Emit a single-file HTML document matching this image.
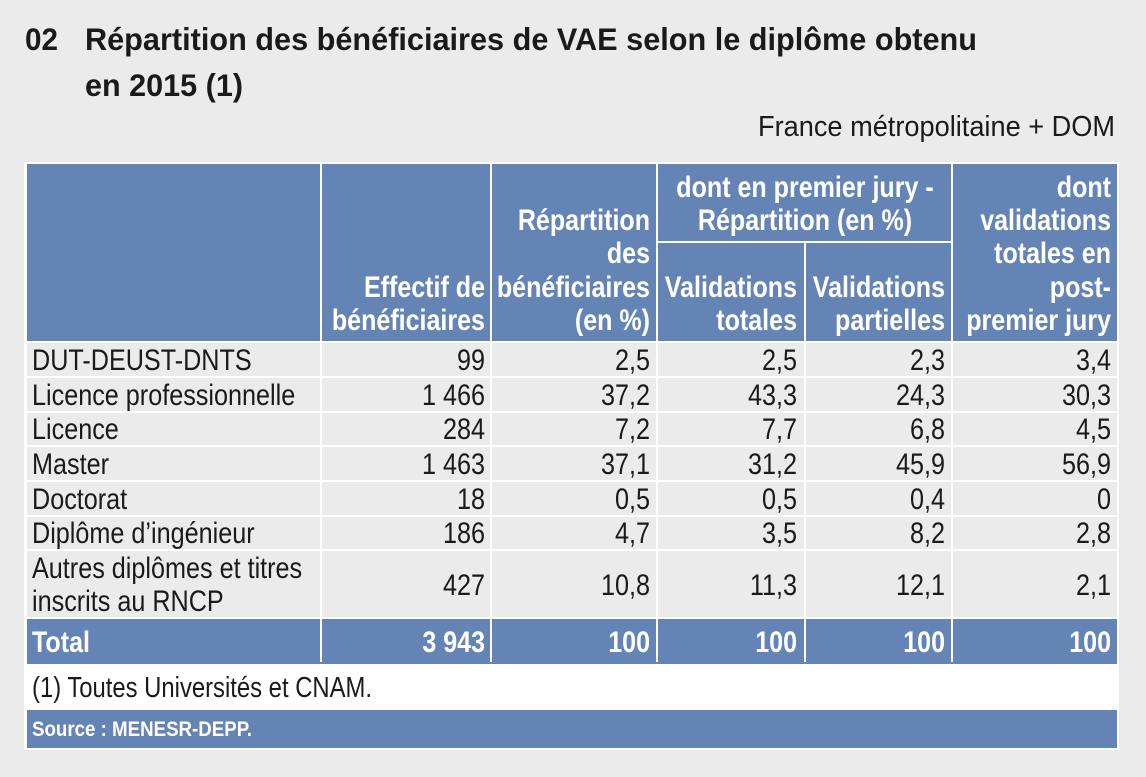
<!DOCTYPE html>
<html>
<head>
<meta charset="utf-8">
<style>
html,body{margin:0;padding:0;background:#ebebeb;}
svg{display:block;}
.t{font-family:"Liberation Sans",Arial,sans-serif;font-weight:bold;font-size:31.5px;fill:#1a1a1a;}
.r{font-family:"Liberation Sans",Arial,sans-serif;font-size:28.5px;fill:#1a1a1a;}
.b{font-family:"Liberation Sans",Arial,sans-serif;font-size:30px;fill:#1a1a1a;}
.h{font-family:"Liberation Sans",Arial,sans-serif;font-weight:bold;font-size:30px;fill:#ffffff;}
.f{font-family:"Liberation Sans",Arial,sans-serif;font-size:29px;fill:#1a1a1a;}
.s{font-family:"Liberation Sans",Arial,sans-serif;font-weight:bold;font-size:21px;fill:#ffffff;}
</style>
</head>
<body>
<svg width="1146" height="777" viewBox="0 0 1146 777" xmlns="http://www.w3.org/2000/svg">
<rect x="0" y="0" width="1146" height="777" fill="#ebebeb"/>

<!-- Title -->
<text class="t" x="25" y="50" textLength="33" lengthAdjust="spacingAndGlyphs">02</text>
<text class="t" x="85" y="50" textLength="892" lengthAdjust="spacingAndGlyphs">Répartition des bénéficiaires de VAE selon le diplôme obtenu</text>
<text class="t" x="85" y="96" textLength="158" lengthAdjust="spacingAndGlyphs">en 2015 (1)</text>
<text class="r" x="758" y="136" textLength="357" lengthAdjust="spacingAndGlyphs">France métropolitaine + DOM</text>

<!-- white frame -->
<rect x="24" y="162" width="1095" height="588" fill="#ffffff"/>

<!-- header cells -->
<g fill="#6584b6">
<rect x="27" y="164" width="293" height="177"/>
<rect x="322" y="164" width="168" height="177"/>
<rect x="492" y="164" width="164" height="177"/>
<rect x="658" y="164" width="293" height="77"/>
<rect x="658" y="243" width="146" height="98"/>
<rect x="806" y="243" width="145" height="98"/>
<rect x="953" y="164" width="164" height="177"/>
</g>

<!-- body gray -->
<rect x="27" y="343" width="1090" height="274" fill="#ebebeb"/>
<!-- total blue -->
<rect x="27" y="619" width="1090" height="45" fill="#6584b6"/>
<!-- source blue -->
<rect x="27" y="710" width="1090" height="38" fill="#6584b6"/>

<!-- horizontal white lines in body -->
<g fill="#ffffff">
<rect x="27" y="376" width="1090" height="2"/>
<rect x="27" y="411" width="1090" height="2"/>
<rect x="27" y="445" width="1090" height="2"/>
<rect x="27" y="480" width="1090" height="2"/>
<rect x="27" y="515" width="1090" height="2"/>
<rect x="27" y="549" width="1090" height="2"/>
<rect x="27" y="617" width="1090" height="2"/>
<!-- vertical white lines -->
<rect x="320" y="341" width="2" height="321"/>
<rect x="490" y="341" width="2" height="321"/>
<rect x="656" y="341" width="2" height="321"/>
<rect x="804" y="341" width="2" height="321"/>
<rect x="951" y="341" width="2" height="321"/>
</g>

<!-- header texts -->
<g class="h">
<text text-anchor="end" transform="translate(485 297) scale(.835 1)">Effectif de</text>
<text text-anchor="end" transform="translate(485 330) scale(.835 1)">bénéficiaires</text>

<text text-anchor="end" transform="translate(650 230) scale(.835 1)">Répartition</text>
<text text-anchor="end" transform="translate(650 263) scale(.835 1)">des</text>
<text text-anchor="end" transform="translate(650 297) scale(.835 1)">bénéficiaires</text>
<text text-anchor="end" transform="translate(650 330) scale(.835 1)">(en %)</text>

<text text-anchor="middle" transform="translate(805 197) scale(.835 1)">dont en premier jury -</text>
<text text-anchor="middle" transform="translate(805 230) scale(.835 1)">Répartition (en %)</text>

<text text-anchor="end" transform="translate(797 297) scale(.835 1)">Validations</text>
<text text-anchor="end" transform="translate(797 330) scale(.835 1)">totales</text>

<text text-anchor="end" transform="translate(945 297) scale(.835 1)">Validations</text>
<text text-anchor="end" transform="translate(945 330) scale(.835 1)">partielles</text>

<text text-anchor="end" transform="translate(1111 197) scale(.835 1)">dont</text>
<text text-anchor="end" transform="translate(1111 230) scale(.835 1)">validations</text>
<text text-anchor="end" transform="translate(1111 263) scale(.835 1)">totales en</text>
<text text-anchor="end" transform="translate(1111 297) scale(.835 1)">post-</text>
<text text-anchor="end" transform="translate(1111 330) scale(.835 1)">premier jury</text>
</g>

<!-- body texts -->
<g class="b">
<!-- row 1 -->
<text transform="translate(32 370) scale(.84 1)">DUT-DEUST-DNTS</text>
<text text-anchor="end" transform="translate(485 370) scale(.84 1)">99</text>
<text text-anchor="end" transform="translate(650 370) scale(.84 1)">2,5</text>
<text text-anchor="end" transform="translate(797 370) scale(.84 1)">2,5</text>
<text text-anchor="end" transform="translate(945 370) scale(.84 1)">2,3</text>
<text text-anchor="end" transform="translate(1111 370) scale(.84 1)">3,4</text>
<!-- row 2 -->
<text transform="translate(32 405) scale(.84 1)">Licence professionnelle</text>
<text text-anchor="end" transform="translate(485 405) scale(.84 1)">1 466</text>
<text text-anchor="end" transform="translate(650 405) scale(.84 1)">37,2</text>
<text text-anchor="end" transform="translate(797 405) scale(.84 1)">43,3</text>
<text text-anchor="end" transform="translate(945 405) scale(.84 1)">24,3</text>
<text text-anchor="end" transform="translate(1111 405) scale(.84 1)">30,3</text>
<!-- row 3 -->
<text transform="translate(32 439) scale(.84 1)">Licence</text>
<text text-anchor="end" transform="translate(485 439) scale(.84 1)">284</text>
<text text-anchor="end" transform="translate(650 439) scale(.84 1)">7,2</text>
<text text-anchor="end" transform="translate(797 439) scale(.84 1)">7,7</text>
<text text-anchor="end" transform="translate(945 439) scale(.84 1)">6,8</text>
<text text-anchor="end" transform="translate(1111 439) scale(.84 1)">4,5</text>
<!-- row 4 -->
<text transform="translate(32 474) scale(.84 1)">Master</text>
<text text-anchor="end" transform="translate(485 474) scale(.84 1)">1 463</text>
<text text-anchor="end" transform="translate(650 474) scale(.84 1)">37,1</text>
<text text-anchor="end" transform="translate(797 474) scale(.84 1)">31,2</text>
<text text-anchor="end" transform="translate(945 474) scale(.84 1)">45,9</text>
<text text-anchor="end" transform="translate(1111 474) scale(.84 1)">56,9</text>
<!-- row 5 -->
<text transform="translate(32 509) scale(.84 1)">Doctorat</text>
<text text-anchor="end" transform="translate(485 509) scale(.84 1)">18</text>
<text text-anchor="end" transform="translate(650 509) scale(.84 1)">0,5</text>
<text text-anchor="end" transform="translate(797 509) scale(.84 1)">0,5</text>
<text text-anchor="end" transform="translate(945 509) scale(.84 1)">0,4</text>
<text text-anchor="end" transform="translate(1111 509) scale(.84 1)">0</text>
<!-- row 6 -->
<text transform="translate(32 543) scale(.84 1)">Diplôme d’ingénieur</text>
<text text-anchor="end" transform="translate(485 543) scale(.84 1)">186</text>
<text text-anchor="end" transform="translate(650 543) scale(.84 1)">4,7</text>
<text text-anchor="end" transform="translate(797 543) scale(.84 1)">3,5</text>
<text text-anchor="end" transform="translate(945 543) scale(.84 1)">8,2</text>
<text text-anchor="end" transform="translate(1111 543) scale(.84 1)">2,8</text>
<!-- row 7 -->
<text transform="translate(32 578) scale(.84 1)">Autres diplômes et titres</text>
<text transform="translate(32 611) scale(.84 1)">inscrits au RNCP</text>
<text text-anchor="end" transform="translate(485 595) scale(.84 1)">427</text>
<text text-anchor="end" transform="translate(650 595) scale(.84 1)">10,8</text>
<text text-anchor="end" transform="translate(797 595) scale(.84 1)">11,3</text>
<text text-anchor="end" transform="translate(945 595) scale(.84 1)">12,1</text>
<text text-anchor="end" transform="translate(1111 595) scale(.84 1)">2,1</text>
</g>

<!-- total row -->
<g class="h">
<text transform="translate(32 652) scale(.835 1)">Total</text>
<text text-anchor="end" transform="translate(485 652) scale(.835 1)">3 943</text>
<text text-anchor="end" transform="translate(650 652) scale(.835 1)">100</text>
<text text-anchor="end" transform="translate(797 652) scale(.835 1)">100</text>
<text text-anchor="end" transform="translate(945 652) scale(.835 1)">100</text>
<text text-anchor="end" transform="translate(1111 652) scale(.835 1)">100</text>
</g>

<!-- footnote -->
<text class="f" x="32" y="697" textLength="340" lengthAdjust="spacingAndGlyphs">(1) Toutes Universités et CNAM.</text>
<!-- source -->
<text class="s" x="32" y="736" textLength="220" lengthAdjust="spacingAndGlyphs">Source : MENESR-DEPP.</text>
</svg>
</body>
</html>
